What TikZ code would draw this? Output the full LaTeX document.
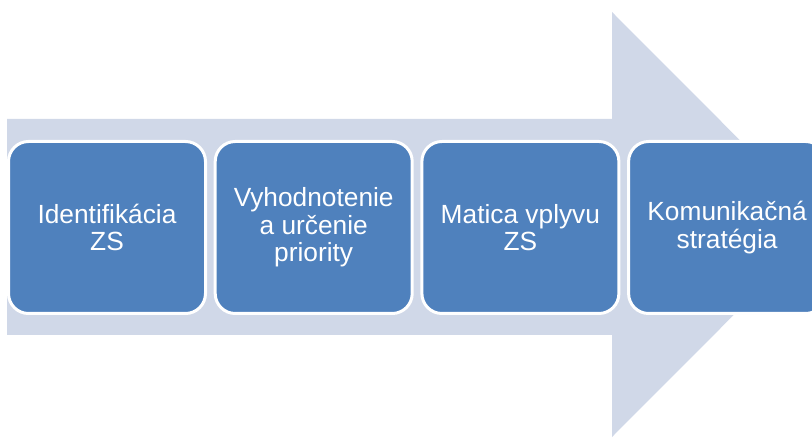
\documentclass[tikz,border=0pt]{standalone}
\usepackage{fontspec}
\setmainfont{Liberation Sans}
\definecolor{arrowfill}{HTML}{D0D8E8}
\definecolor{stepblue}{HTML}{4F81BD}
\tikzset{
  stepbox/.style={
    rectangle, rounded corners=20pt, fill=stepblue, draw=white,
    line width=3pt, minimum width=197pt, minimum height=172pt,
    inner sep=0pt, align=center, text=white,
    font=\fontsize{26.3}{27.5}\selectfont
  }
}
\begin{document}
\begin{tikzpicture}[x=1pt,y=1pt]
  \useasboundingbox (0,0) rectangle (812,437);
  \clip (0,0) rectangle (812,437);
  % large background arrow
  \fill[arrowfill] (7,318) -- (612,318) -- (612,425) -- (824,212.5)
    -- (612,0) -- (612,102) -- (7,102) -- cycle;
  % process steps
  \node[stepbox] (s1) at (107,209.5) {Identifikácia\\ZS};
  \node[stepbox] (s2) at (313.7,209.5) {Vyhodnotenie\\a určenie\\priority};
  \node[stepbox] (s3) at (520.4,209.5) {Matica vplyvu\\ZS};
  \node[stepbox] (s4) at (727.1,209.5) {Komunikačná\\stratégia};
\end{tikzpicture}
\end{document}
